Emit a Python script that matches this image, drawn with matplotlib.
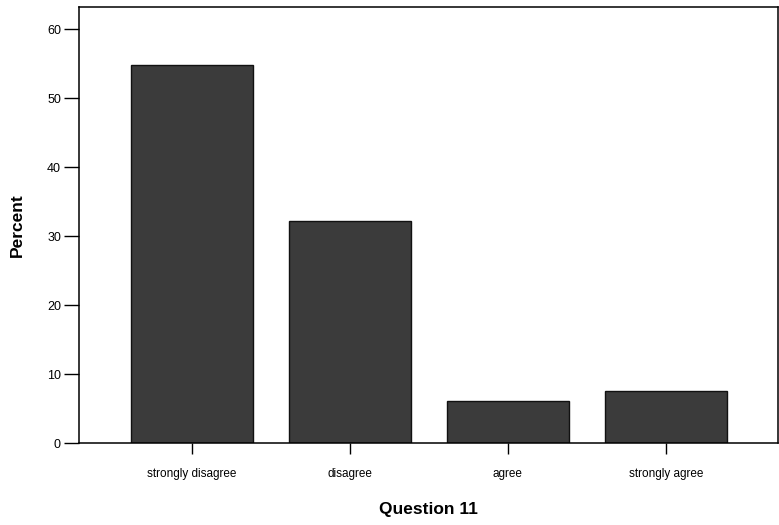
import matplotlib
matplotlib.use("Agg")
import matplotlib.pyplot as plt
import numpy as np

plt.rcParams["font.family"] = ["Liberation Sans", "DejaVu Sans"]

categories = ["strongly disagree", "disagree", "agree", "strongly agree"]
percent = [54.8, 32.2, 6.1, 7.5]
yticks = [0, 10, 20, 30, 40, 50, 60]

fig = plt.figure(figsize=(7.79, 5.25), dpi=100)
ax = fig.add_axes([79 / 779, 1 - 443 / 525, (778 - 79) / 779, (443 - 7) / 525])

x = np.arange(len(categories))
ax.bar(x, percent, width=0.77, color="#3b3b3b", edgecolor="#111111", linewidth=1.0)

ax.set_xlim(-0.715, 3.71)
ax.set_ylim(0, 63.2)
ax.set_yticks(yticks)
ax.set_xticks(x)
ax.set_xticklabels(categories, fontsize=8.5)
ax.tick_params(axis="y", direction="out", length=11, width=1, labelsize=9, pad=2)
ax.tick_params(axis="x", direction="out", length=8, width=1, pad=10)
for s in ax.spines.values():
    s.set_linewidth(1.1)

ax.set_ylabel("Percent", fontsize=12.5, fontweight="bold", labelpad=16)
ax.set_xlabel("Question 11", fontsize=12.5, fontweight="bold", labelpad=16)

fig.savefig("out.png", dpi=100)
